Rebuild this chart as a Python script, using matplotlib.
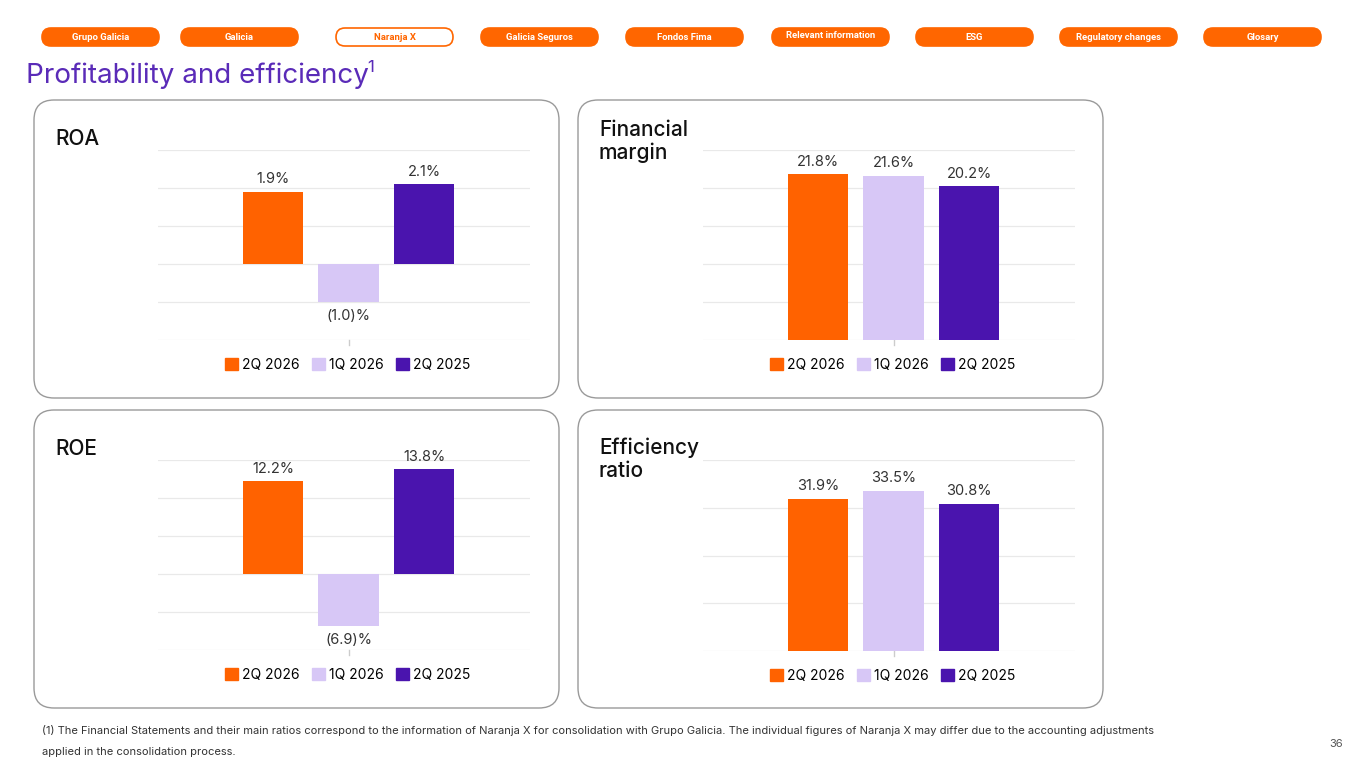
import matplotlib
matplotlib.use("Agg")
import matplotlib.pyplot as plt
from matplotlib.patches import FancyBboxPatch, Patch

plt.rcParams['font.family'] = ['Inter', 'DejaVu Sans']

W, H = 1365, 768

periods = ["2Q 2026", "1Q 2026", "2Q 2025"]
roa = [1.9, -1.0, 2.1]
fin_margin = [21.8, 21.6, 20.2]
roe = [12.2, -6.9, 13.8]
efficiency = [31.9, 33.5, 30.8]

nav_labels = ["Grupo Galicia", "Galicia", "Naranja X", "Galicia Seguros", "Fondos Fima",
              "Relevant information", "ESG", "Regulatory changes", "Glosary"]
nav_x = [42, 181, 336, 481, 626, 772, 916, 1060, 1204]

colors = ["#FF6200", "#D7C7F6", "#4A14AE"]
orange = "#FF6600"
purple = "#5A2BB8"

fig = plt.figure(figsize=(W / 100, H / 100), dpi=100)
bg = fig.add_axes([0, 0, 1, 1])
bg.set_xlim(0, W)
bg.set_ylim(H, 0)
bg.axis("off")

# top navigation
for lab, x in zip(nav_labels, nav_x):
    active = lab == "Naranja X"
    box = FancyBboxPatch((x, 28), 117, 18, boxstyle="round,pad=0,rounding_size=9",
                         fc="white" if active else orange, ec=orange, lw=1.2)
    bg.add_patch(box)
    ty = 36 if lab == "Relevant information" else 37.5
    bg.text(x + 58.5, ty, lab, ha="center", va="center", fontsize=6.8,
            fontweight="bold", color=orange if active else "white", family=["Roboto", "DejaVu Sans"])

bg.text(26, 76, "Profitability and efficiency", fontsize=20, color=purple,
        va="center", ha="left")
bg.text(367, 67, "1", fontsize=12, color=purple, va="center", ha="left")

# panel frames
panels = [(34, 100, "ROA", 29), (578, 100, "Financial\nmargin", 20),
          (34, 410, "ROE", 29), (578, 410, "Efficiency\nratio", 28)]
for px, py, title, dy in panels:
    bg.add_patch(FancyBboxPatch((px, py), 525, 298, boxstyle="round,pad=0,rounding_size=20",
                                fc="white", ec="#9a9a9a", lw=1))
    bg.text(px + 21, py + dy, title, fontsize=15, va="top", ha="left", color="#111111",
            fontweight="medium", linespacing=1.15)

bg.text(42, 731, "(1) The Financial Statements and their main ratios correspond to the information of "
        "Naranja X for consolidation with Grupo Galicia. The individual figures of Naranja X may "
        "differ due to the accounting adjustments", fontsize=8, va="center", color="#333333")
bg.text(42, 752, "applied in the consolidation process.", fontsize=8, va="center", color="#333333")
bg.text(1343, 744, "36", fontsize=8, va="center", ha="right", color="#555555")


def fmt(v):
    return f"({abs(v):.1f})%" if v < 0 else f"{v:.1f}%"


def bar_chart(x0, y0, x1, y1, values, lo, hi, step):
    ax = fig.add_axes([x0 / W, 1 - y1 / H, (x1 - x0) / W, (y1 - y0) / H])
    ax.set_facecolor("none")
    pos = [0, 1, 2]
    ax.bar(pos, values, width=0.795, color=colors, zorder=3)
    ax.set_ylim(lo, hi)
    ax.set_xlim(-1.52, 3.40)
    ax.set_yticks(range(lo, hi + 1, step))
    ax.yaxis.grid(True, color="#e9e9e9", lw=0.9, zorder=0)
    ax.tick_params(left=False, labelleft=False, labelbottom=False, bottom=False)
    for s in ax.spines.values():
        s.set_visible(False)
    ax.plot([1, 1], [lo, lo - (hi - lo) * 0.025], color="#cccccc", lw=1, clip_on=False)
    for p, v in zip(pos, values):
        if v >= 0:
            ax.annotate(fmt(v), (p, v), xytext=(0, 4), textcoords="offset points",
                        ha="center", va="bottom", fontsize=10.5, color="#333333")
        else:
            ax.annotate(fmt(v), (p, v), xytext=(0, -5), textcoords="offset points",
                        ha="center", va="top", fontsize=10.5, color="#333333")
    handles = [Patch(color=c) for c in colors]
    ax.legend(handles, periods, loc="center", bbox_to_anchor=(0.51, -0.13), ncol=3,
              frameon=False, fontsize=10, handlelength=0.9, handleheight=0.9,
              handletextpad=0.3, columnspacing=0.9, borderaxespad=0)
    return ax


bar_chart(158, 150, 530, 340, roa, -2, 3, 1)
bar_chart(703, 150, 1075, 340, fin_margin, 0, 25, 5)
bar_chart(158, 460, 530, 650, roe, -10, 15, 5)
bar_chart(703, 460, 1075, 651, efficiency, 0, 40, 10)

fig.savefig("out.png", dpi=100)
